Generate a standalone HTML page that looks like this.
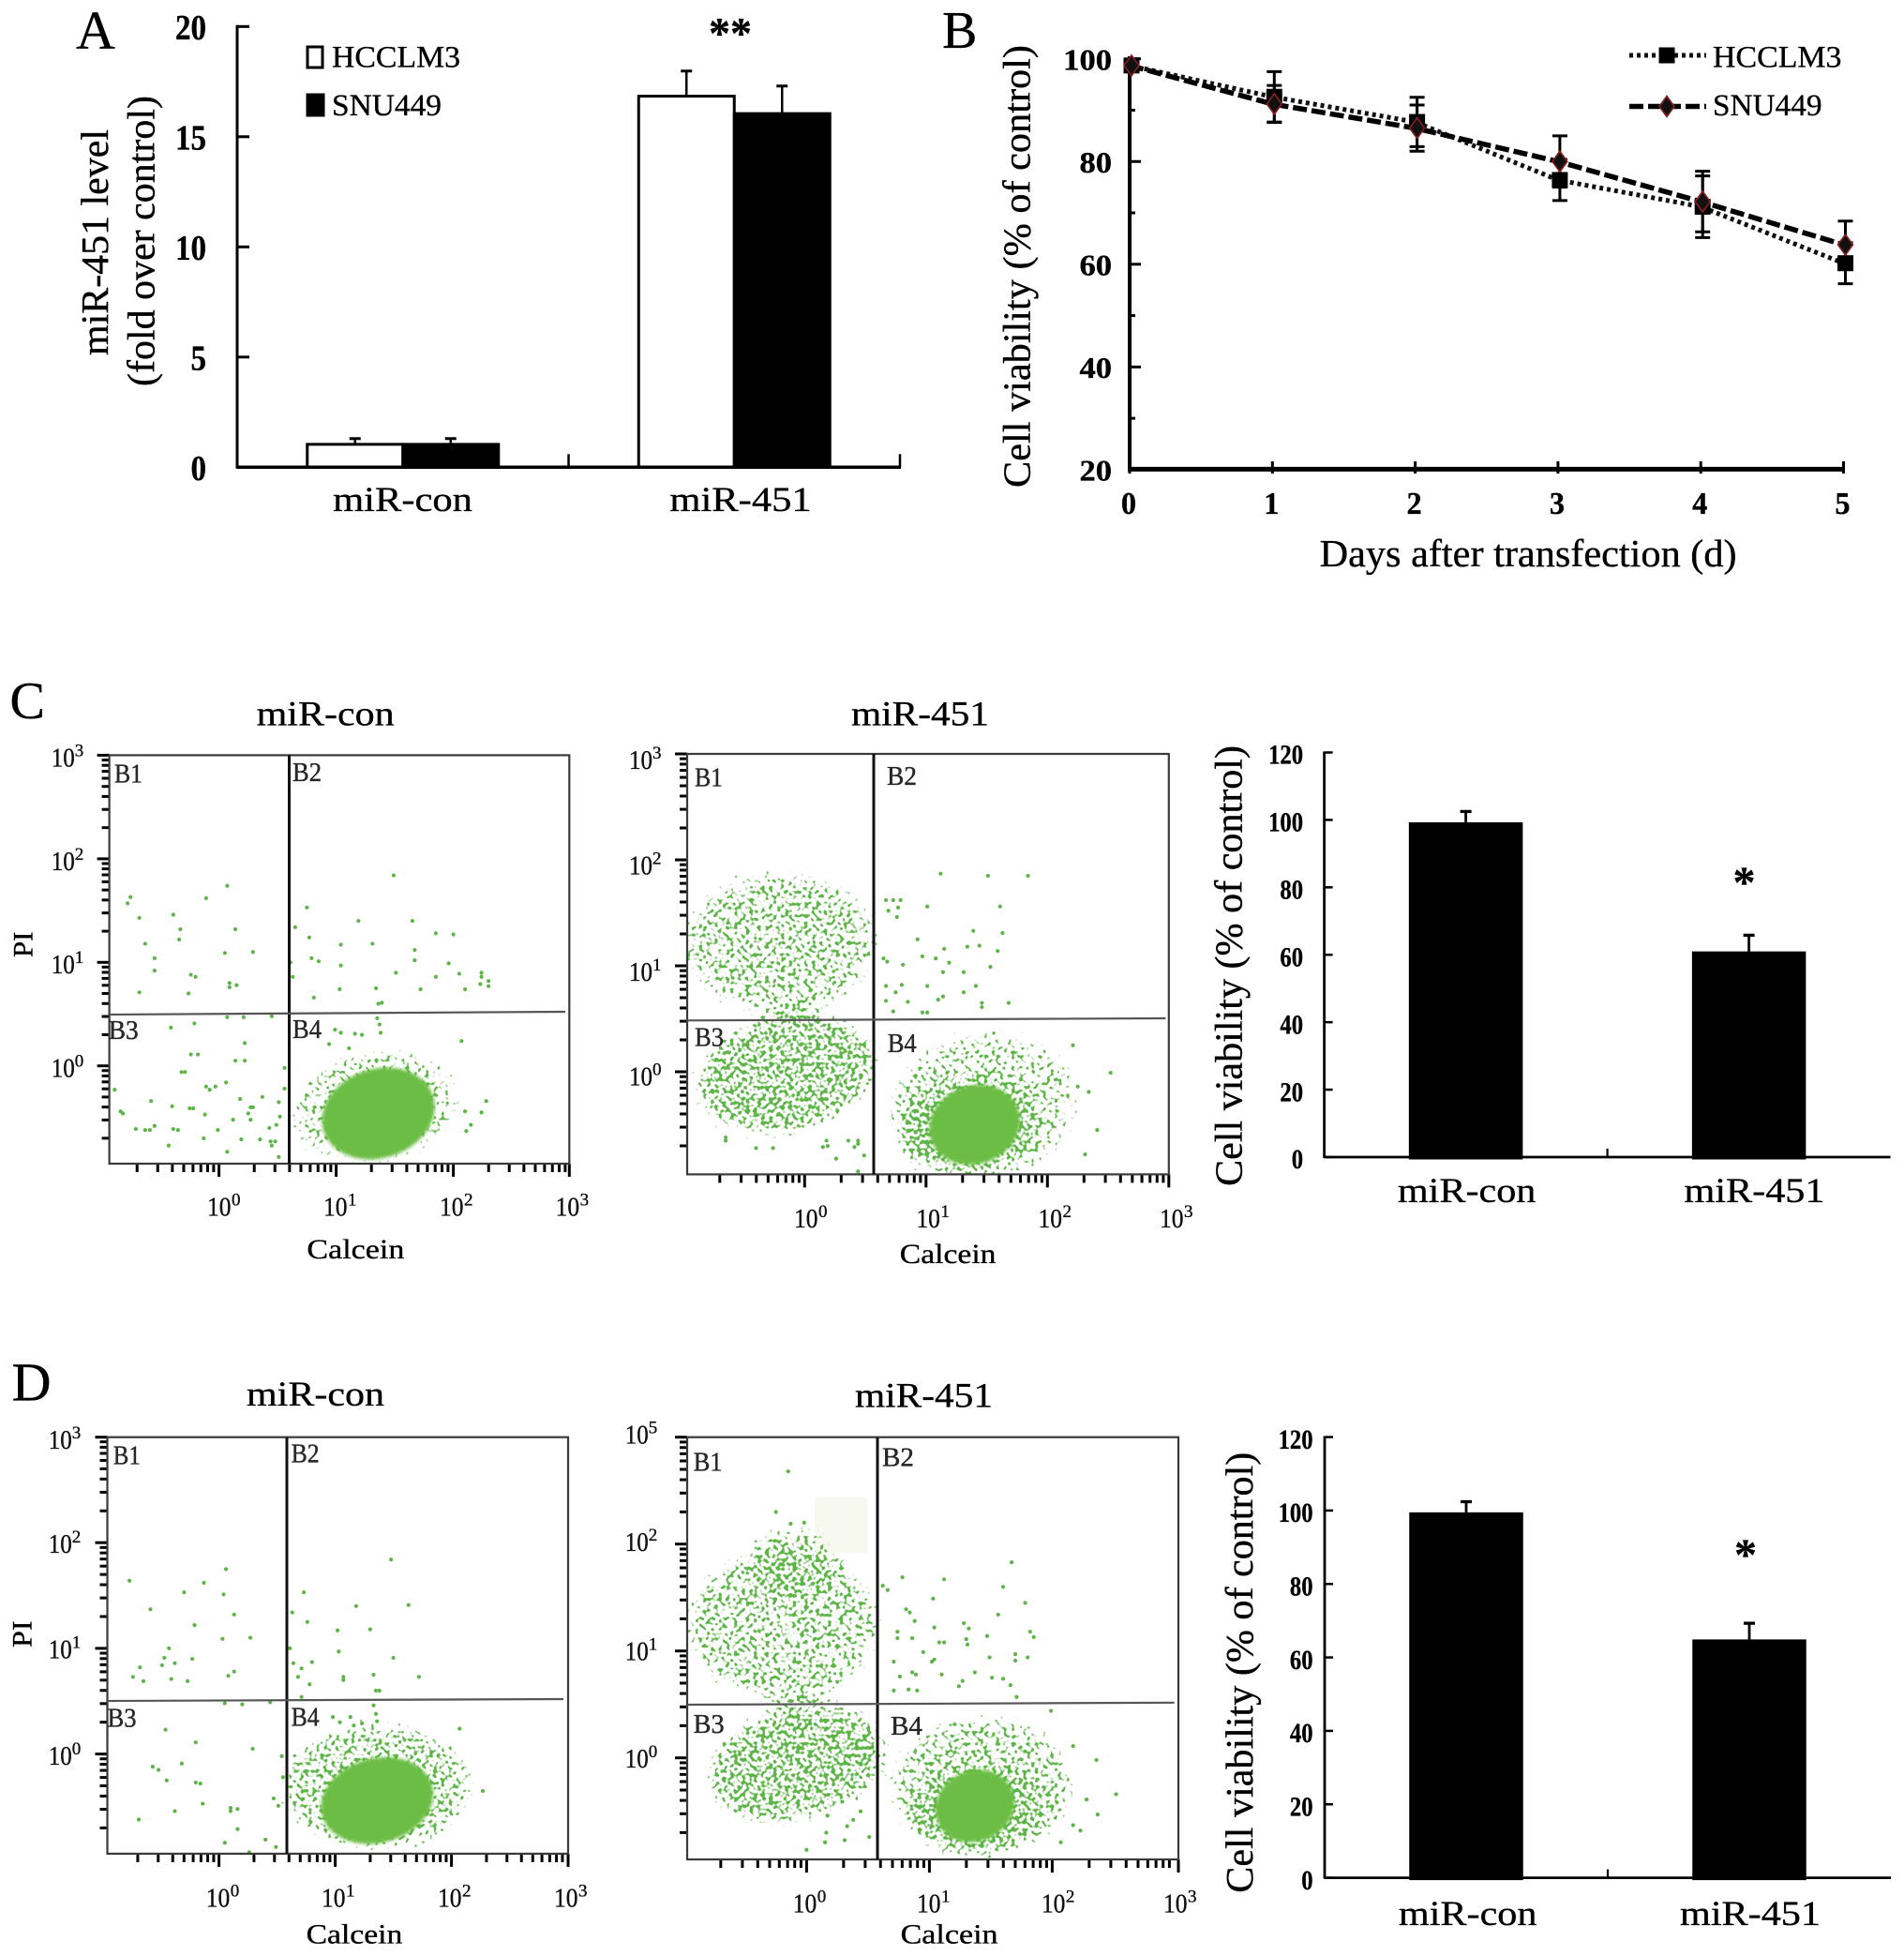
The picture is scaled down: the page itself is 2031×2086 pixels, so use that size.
<!DOCTYPE html>
<html lang="en">
<head>
<meta charset="utf-8">
<title>miR-451 figure</title>
<style>
html,body{margin:0;padding:0;background:#fff;}
svg{display:block;font-family:"Liberation Serif",serif;}
text{stroke:#000;stroke-width:.35px;}
</style>
</head>
<body>
<svg id="figure" xmlns="http://www.w3.org/2000/svg" width="2031" height="2086" viewBox="0 0 2031 2086">
<defs>
<filter id="speckle" x="-25%" y="-25%" width="150%" height="150%" color-interpolation-filters="sRGB">
<feTurbulence type="fractalNoise" baseFrequency="0.24" numOctaves="1" seed="7" result="noise"/>
<feColorMatrix in="noise" type="matrix" values="0 0 0 0 0  0 0 0 0 0  0 0 0 0 0  1 0 0 0 0" result="grain"/>
<feGaussianBlur in="SourceAlpha" stdDeviation="9" result="soft"/>
<feComposite in="grain" in2="soft" operator="arithmetic" k1="0" k2="1" k3="0.42" k4="0" result="mix"/>
<feColorMatrix in="mix" type="matrix" values="0 0 0 0 0.37  0 0 0 0 0.71  0 0 0 0 0.28  0 0 0 10 -8.8"/>
</filter>
<filter id="core-soft" x="-10%" y="-10%" width="120%" height="120%"><feGaussianBlur stdDeviation="1.8"/></filter>
</defs>
<rect x="0" y="0" width="2031" height="2086" fill="#fff"/>
</svg>
<script>
// ---------- Panel A data ----------
const aCategories = ['miR-con', 'miR-451'];
const aHcclm3 = [1.04, 16.84];
const aSnu449 = [1.04, 16.05];
const aHcclm3Err = [0.26, 1.14];
const aSnu449Err = [0.26, 1.25];
const aTicks = [20, 15, 10, 5, 0];

// ---------- Panel B data ----------
const bDays = [0, 1, 2, 3, 4, 5];
const bTickLabels = [100, 80, 60, 40, 20];
const bHcclm3 = [98.7, 92.6, 87.7, 76.4, 71.2, 60.2];
const bSnu449 = [98.7, 91.2, 86.5, 80, 72.2, 63.8];
const bHcclm3Err = [0, 4.9, 4.8, 4, 6, 4];
const bSnu449Err = [0, 3.6, 4.5, 5, 5.9, 4.6];

// ---------- Panels C and D viability bars ----------
const viabilityCategories = ['miR-con', 'miR-451'];
const viabilityTicks = [120, 100, 80, 60, 40, 20, 0];
const cViability = [99.3, 61];
const cViabilityErr = [3.2, 4.8];
const dViability = [99.5, 64.9];
const dViabilityErr = [2.9, 4.4];

// ---------- Flow cytometry events: [log10 Calcein, log10 PI] ----------
const cConPoints = [[-.755,1.63],[-.78,1.57],[.07,1.74],[-.11,1.62],[-.68,1.43],[-.39,1.46],[-.33,1.32],[-.34,1.22],[-.63,1.18],[.14,1.32],[.05,1.09],[.29,1.10],[-.55,1.04],[-.55,.92],[-.24,.88],[-.20,.86],[.09,.80],[.09,.76],[.15,.78],[-.68,.71],[-.26,.70],
[1.49,1.84],[.75,1.53],[1.19,1.40],[1.65,1.40],[1.85,1.28],[2.00,1.27],[.65,1.34],[.77,1.24],[1.04,1.17],[1.31,1.18],[1.67,1.12],[.79,1.04],[.85,1.01],[1.67,1.02],[1.04,.97],[.61,1.00],[1.96,.99],[1.51,.90],[.63,.86],[1.85,.86],[2.05,.89],[2.24,.90],[2.24,.86],[2.30,.82],[2.23,.79],[2.30,.77],[1.03,.74],[1.34,.75],[1.72,.74],[2.10,.74],[.81,.66],[1.36,.60],[1.39,.61],
[.07,.47],[.21,.47],[.45,.48],[-.21,.41],[-.41,.37],[.22,.22],[-.24,.11],[-.18,.11],[.14,.05],[.22,.05],[-.32,-.06],[-.29,-.06],[.06,-.16],[-.03,-.20],[-.08,-.23],[-.11,-.20],[-.89,-.23],[.56,-.22],[.56,-.02],[-.58,-.34],[-.40,-.39],[-.25,-.41],[-.22,-.41],[-.84,-.44],[-.82,-.46],[-.12,-.47],[.18,-.32],[.37,-.30],[.51,-.35],[.27,-.40],[.29,-.40],[.25,-.46],[.27,-.52],[.12,-.52],[.52,-.49],[-.71,-.61],[-.63,-.62],[-.59,-.62],[-.55,-.58],[-.39,-.61],[-.35,-.62],[-.01,-.62],[.43,-.60],[.49,-.57],[.19,-.71],[.35,-.71],[-.13,-.70],[-.43,-.77],[.07,-.83],[.44,-.73],[.48,-.73],[.45,-.77],[.51,-.88],
[.99,.35],[1.04,.32],[1.16,.31],[1.22,.30],[1.35,.46],[1.37,.40],[1.38,.32],[.94,.21],[1.11,.17],[2.07,.24],[2.28,-.34],[2.24,-.45],[2.10,-.44],[2.15,-.57],[2.11,-.63]];

const c451Points = [[1.12,1.87],[1.51,1.85],[1.84,1.85],[1.01,1.56],[1.61,1.56],[.67,1.62],[.73,1.62],[.79,1.62],[.69,1.52],[.77,1.55],[.76,1.46],[1.39,1.33],[1.63,1.31],[.93,1.25],[1.34,1.18],[1.44,1.19],[1.15,1.16],[1.59,1.14],[.97,1.09],[1.08,1.07],[1.19,1.03],[.65,1.07],[.68,1.04],[.81,1.01],[1.53,.99],[1.14,.94],[1.31,.94],[.67,.81],[.80,.82],[.75,.75],[1.01,.81],[1.41,.81],[1.31,.75],[1.14,.71],[1.10,.68],[1.46,.65],[1.68,.65],[1.46,.61],[.85,.66],[.67,.67],[.97,.56],[1.01,.56],[.73,.57],
[2.52,-.01],[2.34,-.19],[2.25,-.14],[2.41,-.55],[2.31,-.78],[2.21,.25],
[.18,-.65],[.19,-.70],[.44,-.65],[.36,-.65],[.41,-.71],[.49,-.79],[.44,-.68],[.15,-.71],[.26,-.82],[.44,-.94],
[-.65,-.62],[-.40,-.72],[-.26,-.72],[-.65,-.65]];

const dConPoints = [[-.77,1.64],[.06,1.75],[-.13,1.62],[-.30,1.53],[.04,1.51],[-.59,1.37],[.13,1.32],[-.21,1.22],[.03,1.09],[.27,1.10],[-.43,1.00],[-.47,.91],[-.23,.90],[-.38,.86],[-.49,.84],[-.68,.82],[.13,.78],[.08,.74],[-.74,.73],[-.65,.69],[-.41,.71],[-.27,.69],
[1.48,1.84],[.73,1.53],[1.18,1.40],[1.63,1.41],[.63,1.34],[.76,1.25],[1.02,1.17],[1.30,1.18],[1.03,.97],[.61,1.00],[1.50,.91],[.64,.86],[.80,.87],[.71,.81],[1.33,.75],[1.07,.73],[1.07,.70],[.68,.73],[.78,.66],[1.72,.73],[1.35,.60],[1.38,.60],[.71,.54],
[.05,.48],[.20,.47],[.44,.49],[-.46,.23],[-.20,.11],[.29,.05],[-.32,-.09],[-.57,-.12],[-.52,-.15],[-.45,-.25],[.54,-.02],[.55,-.22],[-.20,-.27],[-.16,-.28],[-.14,-.47],[.47,-.42],[.51,-.49],[.10,-.51],[.16,-.52],[.10,-.54],[-.38,-.54],[-.69,-.62],[.16,-.71],[.40,-.81],[.05,-.84],[.49,-.88],[.26,-.93],
[.98,.35],[1.04,.30],[1.13,.35],[1.16,.27],[1.23,.29],[1.33,.46],[1.35,.38],[1.36,.31],[2.07,.24],[2.27,-.35]];

const d451Points = [[-.15,2.68],[-.25,2.30],[-.13,2.19],[-.02,2.20],[.78,1.69],[1.12,1.67],[1.67,1.83],[1.60,1.60],[1.78,1.45],[1.03,1.49],[1.56,1.34],[.81,1.39],[.84,1.36],[.88,1.28],[1.04,1.22],[1.28,1.26],[1.32,1.21],[1.47,1.14],[1.82,1.18],[1.85,1.13],[.74,1.18],[.74,1.12],[.86,1.12],[1.08,1.08],[1.12,1.08],[1.30,1.11],[1.31,1.06],[.95,.99],[1.04,.92],[1.02,.90],[1.49,.94],[1.70,.97],[1.70,.91],[1.80,.94],[.71,.90],[.86,.80],[.89,.78],[.76,.76],[1.10,.78],[1.27,.72],[1.37,.80],[1.51,.75],[1.60,.74],[1.66,.68],[1.24,.67],[.71,.63],[.90,.63],[.83,.64],[1.71,.57],[.62,1.61],[.66,1.57],
[1.99,.44],[2.52,-.34],[2.36,-.02],[2.28,-.39],[2.17,.11],[2.37,-.53],[2.23,-.68],[2.17,-.63],[2.07,-.79],
[.29,-.41],[.17,-.54],[.44,-.50],[.38,-.58],[.33,-.64],[.16,-.70],[.31,-.77],[.51,-.74],[0,-.86],[.15,-.79]];

// Dense populations: [log10 x, log10 y, radius x (decades), radius y (decades), tilt deg, density]
const cConClouds = [[1.33,-.40,.74,.56,-10,.8]];
const cConCores = [[1.36,-.46,.49,.43,-18]];
const c451Clouds = [[-.2,1.22,.82,.68,0,.85],[-.15,-.02,.78,.58,-12,.95],[1.48,-.32,.8,.72,-10,.8],[1.32,-.52,.6,.44,-10,1]];
const c451Cores = [[1.40,-.50,.38,.37,-20]];
const dConClouds = [[1.36,-.31,.84,.62,0,.88]];
const dConCores = [[1.36,-.44,.49,.40,-15]];
const d451Clouds = [[-.19,1.25,.8,.74,0,.85],[-.1,1.85,.4,.35,0,.8],[-.08,-.05,.76,.56,-15,.95],[1.43,-.27,.76,.68,0,.85],[1.35,-.5,.54,.4,-10,1]];
const d451Cores = [[1.37,-.45,.33,.33,-25]];

const NS = 'http://www.w3.org/2000/svg';
const svg = document.getElementById('figure');

function add(tag, parent, name, attrs) {
  const el = document.createElementNS(NS, tag);
  
  
  for (const k in attrs) el.setAttribute(k, attrs[k]);
  parent.appendChild(el);
  return el;
}
function group(parent, name) { return add('g', parent, name, {}); }
function line(p, name, x1, y1, x2, y2, w, color, dash) {
  const a = {x1, y1, x2, y2, stroke: color || '#000', 'stroke-width': w};
  if (dash) a['stroke-dasharray'] = dash;
  return add('line', p, name, a);
}
function rect(p, name, x, y, w, h, fill, stroke, sw) {
  const a = {x, y, width: w, height: h, fill};
  if (stroke) { a.stroke = stroke; a['stroke-width'] = sw; }
  return add('rect', p, name, a);
}
function txt(p, name, str, x, y, size, o) {
  o = o || {};
  let t = 'translate(' + x + ' ' + y + ')';
  if (o.rot) t += ' rotate(-90)';
  if (o.sx) t += ' scale(' + o.sx + ' 1)';
  const a = {x: 0, y: 0, 'font-size': size, transform: t, fill: o.fill || '#000'};
  if (o.weight) a['font-weight'] = o.weight;
  if (o.anchor) a['text-anchor'] = o.anchor;
  if (o.len) { a.textLength = o.len; a.lengthAdjust = 'spacingAndGlyphs'; }
  const el = add('text', p, name, a);
  el.textContent = str;
  return el;
}
function errBar(p, name, x, yTop, yBase, cap, w) {
  line(p, name + '-stem', x, yBase, x, yTop, w);
  line(p, name + '-cap', x - cap, yTop, x + cap, yTop, w + 0.5);
}

// ---------- Panel A ----------
(function () {
  const g = group(svg, 'panel-a');
  const y = v => 498.3 - v * 23.5;
  const left = 253, band = 353.5, barW = 102;
  const cx = i => left + band * (i + 0.5);
  txt(g, 'panel-label-a', 'A', 81, 52, 58);
  aTicks.forEach(v => {
    line(g, 'y-tick-' + v, left, y(v), left + 13, y(v), 3);
    txt(g, 'y-tick-label-' + v, String(v), 220, y(v) + 13.5, 38, {weight: 'bold', anchor: 'end', sx: 0.87});
  });
  aCategories.forEach((c, i) => {
    const tx = [429.5, 790][i];
    rect(g, 'bar-hcclm3-' + c, cx(i) - barW, y(aHcclm3[i]), barW, y(0) - y(aHcclm3[i]), '#fff', '#000', 3);
    rect(g, 'bar-snu449-' + c, cx(i), y(aSnu449[i]), barW, y(0) - y(aSnu449[i]), '#000', '#000', 3);
    errBar(g, 'error-hcclm3-' + c, cx(i) - barW / 2, y(aHcclm3[i] + aHcclm3Err[i]), y(aHcclm3[i]), 6, 2.5);
    errBar(g, 'error-snu449-' + c, cx(i) + barW / 2, y(aSnu449[i] + aSnu449Err[i]), y(aSnu449[i]), 6, 2.5);
    txt(g, 'x-category-' + c, c, tx, 545, 37, {anchor: 'middle', sx: 1.15});
  });
  line(g, 'y-axis', left, y(20) - 1.5, left, y(0) + 1.5, 3);
  line(g, 'x-axis', left, y(0), 961, y(0), 3.5);
  line(g, 'x-tick-mid', left + band, y(0), left + band, y(0) - 14, 2.5);
  line(g, 'x-tick-end', left + 2 * band, y(0), left + 2 * band, y(0) - 14, 2.5);
  txt(g, 'y-axis-title-line-1', 'miR-451 level', 115, 379, 41, {rot: true, len: 241});
  txt(g, 'y-axis-title-line-2', '(fold over control)', 164.5, 412, 41, {rot: true, len: 310});
  rect(g, 'legend-swatch-hcclm3', 328, 50, 16, 22, '#fff', '#000', 3);
  rect(g, 'legend-swatch-snu449', 326.5, 99.5, 20, 25, '#000');
  txt(g, 'legend-label-hcclm3', 'HCCLM3', 354, 71.5, 33, {len: 137});
  txt(g, 'legend-label-snu449', 'SNU449', 354, 123, 33, {len: 117});
  txt(g, 'significance-stars', '**', 756, 51.5, 48, {weight: 'bold', len: 46});
})();

// ---------- Panel B ----------
(function () {
  const g = group(svg, 'panel-b');
  const x = d => 1205 + d * 152.3;
  const y = v => 62.7 + (100 - v) * 5.4775;
  txt(g, 'panel-label-b', 'B', 1005, 51, 56);
  for (let v = 20; v <= 100; v += 10) {
    line(g, 'y-tick-' + v, 1205, y(v), 1205 + (v % 20 === 0 ? 12 : 6), y(v), 3);
  }
  bTickLabels.forEach(v => {
    txt(g, 'y-tick-label-' + v, String(v), 1186, y(v) + 11.7, 32, {weight: 'bold', anchor: 'end', sx: 1.08});
  });
  bDays.forEach(d => {
    line(g, 'x-tick-' + d, x(d), 492, x(d), 505, 3);
    txt(g, 'x-tick-label-' + d, String(d), x(d) - 1, 548, 34, {weight: 'bold', anchor: 'middle', sx: 0.95});
  });
  line(g, 'y-axis', 1205, 60, 1205, 502, 4);
  line(g, 'x-axis', 1203, 500.4, 1968, 500.4, 5);
  bDays.forEach((d, i) => {
    if (bHcclm3Err[i] > 0) {
      const t = y(bHcclm3[i] + bHcclm3Err[i]), b = y(bHcclm3[i] - bHcclm3Err[i]);
      line(g, 'error-hcclm3-stem-' + d, x(d) + 2, t, x(d) + 2, b, 3);
      line(g, 'error-hcclm3-top-' + d, x(d) - 6, t, x(d) + 10, t, 3);
      line(g, 'error-hcclm3-bottom-' + d, x(d) - 6, b, x(d) + 10, b, 3);
    }
    if (bSnu449Err[i] > 0) {
      const t = y(bSnu449[i] + bSnu449Err[i]), b = y(bSnu449[i] - bSnu449Err[i]);
      line(g, 'error-snu449-stem-' + d, x(d) + 2, t, x(d) + 2, b, 3);
      line(g, 'error-snu449-top-' + d, x(d) - 6, t, x(d) + 10, t, 3);
      line(g, 'error-snu449-bottom-' + d, x(d) - 6, b, x(d) + 10, b, 3);
    }
  });
  add('polyline', g, 'line-hcclm3', {fill: 'none', stroke: '#111', 'stroke-width': 5, 'stroke-dasharray': '4 4',
    points: bDays.map((d, i) => x(d) + ',' + y(bHcclm3[i])).join(' ')});
  add('polyline', g, 'line-snu449', {fill: 'none', stroke: '#000', 'stroke-width': 5.5, 'stroke-dasharray': '15 5',
    points: bDays.map((d, i) => x(d) + ',' + y(bSnu449[i])).join(' ')});
  function square(name, cx, cy) { rect(g, name, cx - 8.5, cy - 8.5, 17, 17, '#000'); }
  function diamond(name, cx, cy) {
    add('polygon', g, name, {points: cx + ',' + (cy - 11) + ' ' + (cx + 8) + ',' + cy + ' ' + cx + ',' + (cy + 11) + ' ' + (cx - 8) + ',' + cy,
      fill: '#111', stroke: '#8c1f23', 'stroke-width': 1.6});
  }
  bDays.forEach((d, i) => square('marker-hcclm3-' + d, x(d) + 2, y(bHcclm3[i])));
  bDays.forEach((d, i) => diamond('marker-snu449-' + d, x(d) + 2, y(bSnu449[i])));
  txt(g, 'x-axis-title', 'Days after transfection (d)', 1407.6, 604, 41, {len: 445});
  txt(g, 'y-axis-title', 'Cell viability (% of control)', 1098.6, 520, 41, {rot: true, len: 472});
  line(g, 'legend-line-hcclm3', 1738, 59, 1820, 59, 5, '#111', '4 4');
  square('legend-marker-hcclm3', 1778, 59);
  line(g, 'legend-line-snu449', 1738, 113.5, 1820, 113.5, 5.5, '#000', '15 5');
  diamond('legend-marker-snu449', 1778, 113.5);
  txt(g, 'legend-label-hcclm3', 'HCCLM3', 1827, 71.4, 33, {len: 137.5});
  txt(g, 'legend-label-snu449', 'SNU449', 1827, 123, 33, {len: 116.5});
})();

// ---------- Flow cytometry plots ----------
function flowPlot(c) {
  const g = group(svg, c.id);
  const X = v => c.x0 + v * c.xd;
  const Y = v => c.y0 - v * c.yd;
  const clipId = c.id + '-clip';
  const cp = add('clipPath', g, c.id + '-clip-region', {id: clipId});
  add('rect', cp, c.id + '-clip-rect', {x: c.l, y: c.t, width: c.r - c.l, height: c.b - c.t});
  const field = add('g', g, 'event-field', {'clip-path': 'url(#' + clipId + ')'});
  if (c.ghost) rect(field, 'compensation-patch', c.ghost[0], c.ghost[1], c.ghost[2], c.ghost[3], '#f7f9f1');
  const speck = add('g', field, 'event-clouds', {filter: 'url(#speckle)'});
  c.clouds.forEach((e, i) => {
    add('ellipse', speck, 'cloud-' + i, {cx: X(e[0]), cy: Y(e[1]), rx: e[2] * c.xd, ry: e[3] * c.yd,
      fill: '#000', 'fill-opacity': e[5], transform: 'rotate(' + e[4] + ' ' + X(e[0]) + ' ' + Y(e[1]) + ')'});
  });
  c.cores.forEach((e, i) => {
    add('ellipse', field, 'dense-core-' + i, {cx: X(e[0]), cy: Y(e[1]), rx: e[2] * c.xd, ry: e[3] * c.yd,
      fill: '#6cbd44', filter: 'url(#core-soft)', transform: 'rotate(' + e[4] + ' ' + X(e[0]) + ' ' + Y(e[1]) + ')'});
  });
  c.points.forEach((p, i) => {
    add('circle', field, 'event-dot', {cx: X(p[0]), cy: Y(p[1]), r: 2.1, fill: '#5db548'});
  });
  // log ticks
  for (let d = -1; d < 3; d++) {
    for (let m = 1; m < 10; m++) {
      const v = d + Math.log10(m);
      const xp = X(v), yp = Y(v);
      if (xp >= c.l - 1) line(g, 'x-tick', xp, c.b, xp, c.b + (m === 1 ? 14 : 9), 3, '#000');
      if (yp <= c.b + 1) line(g, 'y-tick', c.l - (m === 1 ? 13 : 8), yp, c.l, yp, 3, '#000');
    }
  }
  line(g, 'y-tick-top', c.l - 13, c.t, c.l, c.t, 3, '#000');
  line(g, 'x-tick-end', c.r, c.b, c.r, c.b + 14, 3, '#000');
  rect(g, 'plot-frame', c.l, c.t, c.r - c.l, c.b - c.t, 'none', '#3a3a3a', 2.2);
  line(g, 'quadrant-vertical', c.vx, c.t, c.vx, c.b, 3, '#111');
  line(g, 'quadrant-horizontal', c.l, c.hl, c.hrx, c.hry, 2.2, '#555');
  c.quads.forEach(q => {
    txt(g, 'quadrant-label-' + q[0], q[0], q[1], q[2], 28, {len: q[3], fill: '#2b2b2b'});
  });
  c.yLabels.forEach(q => {
    txt(g, 'y-tick-label-10', '10', c.yLabelLeft, q[1], 29, {len: 25, fill: '#111'});
    txt(g, 'y-tick-exponent-' + q[0], q[0], c.yLabelLeft + 25, q[1] - 11, 19, {fill: '#111'});
  });
  c.xLabels.forEach(q => {
    txt(g, 'x-tick-label-10', '10', q[1], c.xLabelBase, 29, {len: 25.5, fill: '#111'});
    txt(g, 'x-tick-exponent-' + q[0], q[0], q[1] + 26, c.xLabelBase - 11, 19, {fill: '#111'});
  });
  txt(g, 'plot-title', c.title[0], c.title[1], c.title[2], 37, {len: 147});
  txt(g, 'x-axis-title', 'Calcein', c.calcein[0], c.calcein[1], 30, {len: c.calcein[2]});
  if (c.pi) txt(g, 'y-axis-title', 'PI', c.pi[0], c.pi[1], 30, {rot: true, len: c.pi[2]});
}

txt(svg, 'panel-label-c', 'C', 10.5, 766, 56);
txt(svg, 'panel-label-d', 'D', 12.6, 1493.6, 58);

flowPlot({id: 'flow-c-mir-con', l: 116.6, r: 607.3, t: 805.4, b: 1241, x0: 233.6, xd: 125, y0: 1136.7, yd: 110.4,
  vx: 308.5, hl: 1082, hrx: 603, hry: 1079, points: cConPoints, clouds: cConClouds, cores: cConCores,
  quads: [['B1', 122, 834.5, 30], ['B2', 312, 832.8, 31], ['B3', 115.7, 1108, 32], ['B4', 312, 1107, 31]],
  yLabelLeft: 54.7, yLabels: [['3', 817.6], ['2', 928], ['1', 1037.8], ['0', 1148.5]],
  xLabelBase: 1296.6, xLabels: [['0', 221], ['1', 345], ['2', 469], ['3', 592.6]],
  title: ['miR-con', 273.6, 773.5], calcein: [327.4, 1342, 104], pi: [34.5, 1021, 27.4]});

flowPlot({id: 'flow-c-mir-451', l: 733, r: 1246.8, t: 804, b: 1252.4, x0: 858.3, xd: 129.5, y0: 1143, yd: 113,
  vx: 932, hl: 1088.3, hrx: 1243.4, hry: 1086, points: c451Points, clouds: c451Clouds, cores: c451Cores,
  quads: [['B1', 741, 838.7, 30], ['B2', 946, 837, 32], ['B3', 741, 1115.6, 31], ['B4', 946.7, 1122, 31]],
  yLabelLeft: 671, yLabels: [['3', 820], ['2', 932.5], ['1', 1046], ['0', 1157.7]],
  xLabelBase: 1309, xLabels: [['0', 847], ['1', 977.4], ['2', 1107.5], ['3', 1237]],
  title: ['miR-451', 908, 773.5], calcein: [959.8, 1347, 102.7], pi: null});

flowPlot({id: 'flow-d-mir-con', l: 114.5, r: 606, t: 1532.7, b: 1976.9, x0: 233.6, xd: 124, y0: 1870.6, yd: 112.7,
  vx: 306, hl: 1814, hrx: 601, hry: 1812, points: dConPoints, clouds: dConClouds, cores: dConCores,
  quads: [['B1', 120.8, 1561.5, 29], ['B2', 310.6, 1559.5, 30], ['B3', 114.5, 1841.7, 31], ['B4', 310.6, 1840.5, 30]],
  yLabelLeft: 51.8, yLabels: [['3', 1545], ['2', 1656], ['1', 1768.4], ['0', 1882]],
  xLabelBase: 2033.3, xLabels: [['0', 219.7], ['1', 343], ['2', 467], ['3', 591]],
  title: ['miR-con', 263, 1499], calcein: [326.6, 2072.5, 102.7], pi: [33.7, 1757, 28.6]});

flowPlot({id: 'flow-d-mir-451', l: 733, r: 1257, t: 1532.7, b: 1983, x0: 860.4, xd: 131, y0: 1874.7, yd: 114,
  vx: 936, hl: 1818, hrx: 1252.7, hry: 1815.8, points: d451Points, clouds: d451Clouds, cores: d451Cores,
  ghost: [869, 1596.6, 56.7, 59.4],
  quads: [['B1', 739.6, 1568.5, 31], ['B2', 941, 1563.6, 34], ['B3', 739.6, 1848, 33], ['B4', 950, 1850, 34]],
  yLabelLeft: 666.8, yLabels: [['5', 1539.7], ['2', 1654], ['1', 1770.5], ['0', 1885]],
  xLabelBase: 2039.5, xLabels: [['0', 845.7], ['1', 978], ['2', 1110.9], ['3', 1241]],
  title: ['miR-451', 912, 1500.6], calcein: [960.6, 2072.5, 104], pi: null});

// ---------- Viability bar charts ----------
function viabilityChart(c) {
  const g = group(svg, c.id);
  const y = v => c.y0 - v * c.unit;
  const cx = i => c.left + c.band * (i + 0.5);
  const barW = 121.5;
  viabilityTicks.forEach(v => {
    line(g, 'y-tick-' + v, c.left, y(v), c.left + 9, y(v), 2.5);
    txt(g, 'y-tick-label-' + v, String(v), c.labelRight, y(v) + 12.2, 30, {weight: 'bold', anchor: 'end', sx: 0.82});
  });
  c.values.forEach((v, i) => {
    const name = viabilityCategories[i];
    rect(g, 'bar-' + name, cx(i) - barW / 2, y(v), barW, y(0) + 2.5 - y(v), '#000');
    errBar(g, 'error-' + name, cx(i), y(v + c.errs[i]), y(v), 6, 2.8);
    txt(g, 'x-category-' + name, name, c.catX[i], c.catBase, 37, {anchor: 'middle', sx: 1.14});
  });
  line(g, 'y-axis', c.left, y(120) - 1, c.left, y(0) + 1, 2.8);
  line(g, 'x-axis', c.left, y(0), c.left + 2 * c.band, y(0), 2.8);
  line(g, 'x-tick-mid', c.left + c.band, y(0), c.left + c.band, y(0) - 9, 2.2);
  txt(g, 'y-axis-title', 'Cell viability (% of control)', c.titleX, c.titleBottom, 41, {rot: true, len: 470});
  txt(g, 'significance-star', '*', c.star[0], c.star[1], 48, {weight: 'bold', anchor: 'middle'});
}
viabilityChart({id: 'viability-c', left: 1412.6, band: 302, y0: 1234, unit: 3.596, values: cViability, errs: cViabilityErr,
  labelRight: 1390, catX: [1564.6, 1871.5], catBase: 1282, titleX: 1324.6, titleBottom: 1265, star: [1860.5, 957]});
viabilityChart({id: 'viability-d', left: 1413, band: 302, y0: 2002.6, unit: 3.917, values: dViability, errs: dViabilityErr,
  labelRight: 1400.5, catX: [1565.7, 1867], catBase: 2053, titleX: 1335.8, titleBottom: 2018.7, star: [1862, 1674]});
</script>
</body>
</html>
